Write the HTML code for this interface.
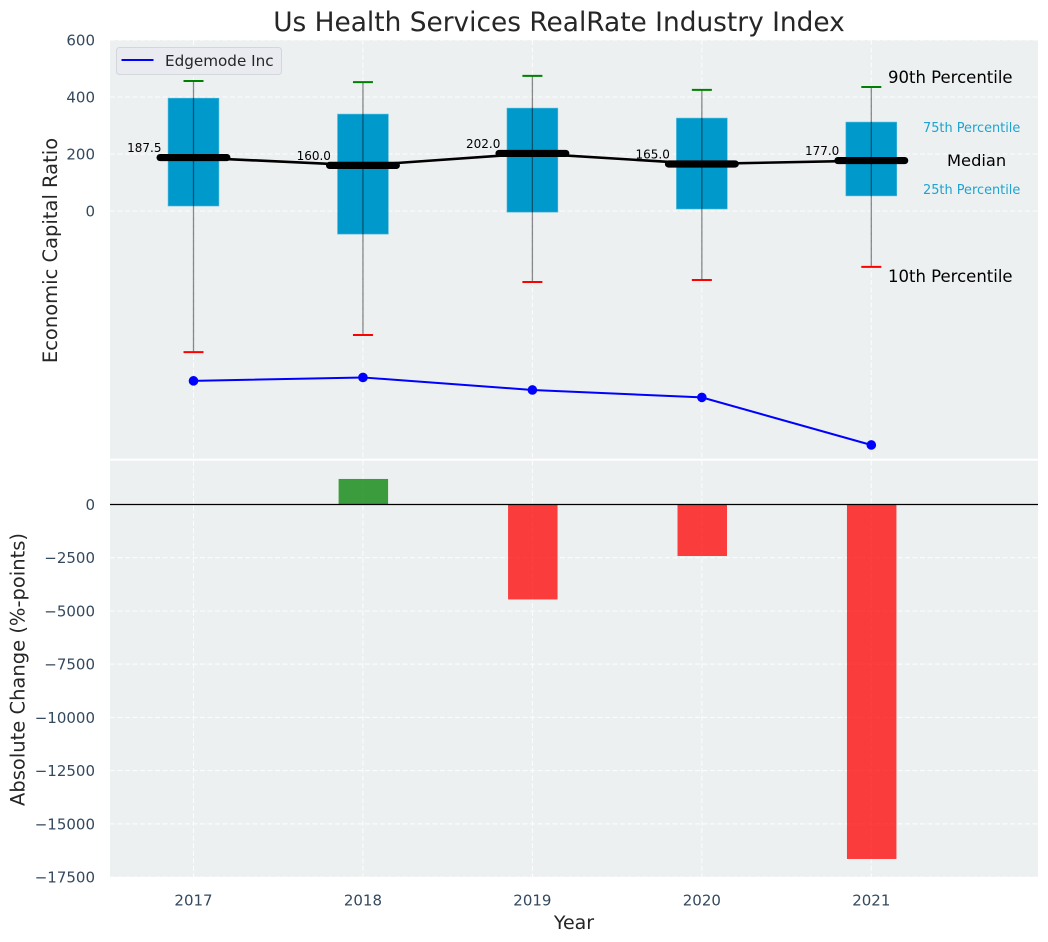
<!DOCTYPE html>
<html lang="en">
<head>
<meta charset="utf-8">
<title>Us Health Services RealRate Industry Index</title>
<style>
html,body{margin:0;padding:0;background:#fff;}
svg{display:block;font-family:"DejaVu Sans","Liberation Sans",sans-serif;}
</style>
</head>
<body>
<svg id="chart" xmlns="http://www.w3.org/2000/svg" width="1048" height="942" viewBox="0 0 1048 942">
  <rect x="110" y="40" width="928" height="418.7" fill="#ecf0f1"/>
  <rect x="110" y="460.7" width="928" height="416.3" fill="#ecf0f1"/>
  <g id="grid"></g>
  <g id="bars"></g>
  <line x1="110" x2="1038" y1="504.5" y2="504.5" stroke="#000" stroke-width="1.3"/>
  <g id="boxes"></g>
  <g id="series"></g>
  <g id="ticks" font-size="15" fill="#34495e"></g>
  <text x="559" y="31" text-anchor="middle" font-size="26.4" fill="#262626">Us Health Services RealRate Industry Index</text>
  <text transform="translate(57,250.5) rotate(-90)" text-anchor="middle" font-size="19.5" fill="#262626">Economic Capital Ratio</text>
  <text transform="translate(24.5,669.5) rotate(-90)" text-anchor="middle" font-size="19.5" fill="#262626">Absolute Change (%-points)</text>
  <text x="574" y="929" text-anchor="middle" font-size="19" fill="#262626">Year</text>
  <text x="888" y="83" font-size="16.5" fill="#000">90th Percentile</text>
  <text x="923" y="132" font-size="12.9" fill="#1fa3cf">75th Percentile</text>
  <text x="947" y="166" font-size="16.3" fill="#000">Median</text>
  <text x="923" y="194" font-size="12.9" fill="#1fa3cf">25th Percentile</text>
  <text x="888" y="282" font-size="16.5" fill="#000">10th Percentile</text>
  <g>
    <rect x="116.5" y="47.5" width="165" height="27" rx="3" fill="#e9ebf1" stroke="#d3d6da"/>
    <line x1="121.5" x2="153.5" y1="60" y2="60" stroke="#0000ff" stroke-width="2"/>
    <text x="165" y="66" font-size="15.2" fill="#262626">Edgemode Inc</text>
  </g>
</svg>
<script>
const years = [2017, 2018, 2019, 2020, 2021];
const p90 = [456, 452, 474, 425, 435];
const q3 = [396, 340, 361, 326, 312];
const medians = [187.5, 160, 202, 165, 177];
const q1 = [17.5, -81, -4, 7, 53];
const p10 = [-495, -435, -249, -242, -196];
const edgemode = [-596, -584, -628, -654, -821];
const changes = [null, 1200, -4460, -2420, -16650];
const topTicks = [600, 400, 200, 0];
const bottomTicks = [0, -2500, -5000, -7500, -10000, -12500, -15000, -17500];

const NS = 'http://www.w3.org/2000/svg';
const xScale = v => 193.5 + (v - 2017) * 169.45;
const xWidth = w => w * 169.45;
const yTop = v => 211 - v * 0.285;
const yBottom = v => 504.5 - v * 0.02129;
const fmtTick = v => String(v).replace('-', '\u2212');

function make(tag, parent, attrs, text) {
  const el = document.createElementNS(NS, tag);
  for (const k in attrs) el.setAttribute(k, attrs[k]);
  if (text !== undefined) el.textContent = text;
  parent.appendChild(el);
  return el;
}
const gGrid = document.getElementById('grid');
const gBars = document.getElementById('bars');
const gBoxes = document.getElementById('boxes');
const gSeries = document.getElementById('series');
const gTicks = document.getElementById('ticks');
const gridStyle = {stroke: '#ffffff', 'stroke-width': 1, 'stroke-dasharray': '5 2.5', opacity: 0.9};

topTicks.forEach(t => {
  const l = make('line', gGrid, Object.assign({x1: 110, x2: 1038, y1: yTop(t), y2: yTop(t)}, gridStyle));
  
  
  const label = make('text', gTicks, {x: 95, y: yTop(t) + 5.5, 'text-anchor': 'end'}, fmtTick(t));
  
  
});
bottomTicks.forEach(t => {
  const l = make('line', gGrid, Object.assign({x1: 110, x2: 1038, y1: yBottom(t), y2: yBottom(t)}, gridStyle));
  
  
  const label = make('text', gTicks, {x: 95, y: yBottom(t) + 5.5, 'text-anchor': 'end'}, fmtTick(t));
  
  
});
years.forEach(y => {
  const a = make('line', gGrid, Object.assign({x1: xScale(y), x2: xScale(y), y1: 40, y2: 458.7}, gridStyle));
  
  
  const b = make('line', gGrid, Object.assign({x1: xScale(y), x2: xScale(y), y1: 460.7, y2: 877}, gridStyle));
  
  
  const label = make('text', gTicks, {x: xScale(y), y: 905.5, 'text-anchor': 'middle'}, String(y));
  
  
});

changes.forEach((c, i) => {
  if (c === null) return;
  const top = Math.min(yBottom(c), yBottom(0));
  const bar = make('rect', gBars, {
    x: xScale(years[i]) - xWidth(0.146) + 0.4, width: xWidth(0.292), y: top,
    height: Math.abs(yBottom(c) - yBottom(0)),
    fill: c >= 0 ? '#008000' : '#ff0000', 'fill-opacity': 0.75
  });
  
  
});

years.forEach((y, i) => {
  const x = xScale(y);
  const box = make('rect', gBoxes, {
    x: x - xWidth(0.15), width: xWidth(0.3), y: yTop(q3[i]), height: yTop(q1[i]) - yTop(q3[i]),
    fill: '#0099cc', stroke: '#4db8db', 'stroke-width': 0.6
  });
  
  
  const whisker = make('line', gBoxes, {
    x1: x, x2: x, y1: yTop(p90[i]), y2: yTop(p10[i]), stroke: '#000', 'stroke-opacity': 0.45, 'stroke-width': 1.3
  });
  
  
  const capHigh = make('line', gBoxes, {
    x1: x - 10, x2: x + 10, y1: yTop(p90[i]), y2: yTop(p90[i]), stroke: '#008000', 'stroke-width': 2
  });
  
  
  const capLow = make('line', gBoxes, {
    x1: x - 10, x2: x + 10, y1: yTop(p10[i]), y2: yTop(p10[i]), stroke: '#ff0000', 'stroke-width': 2
  });
  
  
});

const medianPath = make('polyline', gSeries, {
  points: years.map((y, i) => xScale(y) + ',' + yTop(medians[i])).join(' '),
  fill: 'none', stroke: '#000', 'stroke-width': 2.6
});


years.forEach((y, i) => {
  const bar = make('line', gSeries, {
    x1: xScale(y) - xWidth(0.197), x2: xScale(y) + xWidth(0.197), y1: yTop(medians[i]), y2: yTop(medians[i]),
    stroke: '#000', 'stroke-width': 7.2, 'stroke-linecap': 'round'
  });
  
  
  const label = make('text', gSeries, {
    x: xScale(y) - 32, y: yTop(medians[i]) - 5.5, 'text-anchor': 'end', 'font-size': 12, fill: '#000'
  }, medians[i].toFixed(1));
  
  
});

const edgePath = make('polyline', gSeries, {
  points: years.map((y, i) => xScale(y) + ',' + yTop(edgemode[i])).join(' '),
  fill: 'none', stroke: '#0000ff', 'stroke-width': 2
});


years.forEach((y, i) => {
  const dot = make('circle', gSeries, {cx: xScale(y), cy: yTop(edgemode[i]), r: 4.8, fill: '#0000ff'});
  
  
});
</script>
</body>
</html>
